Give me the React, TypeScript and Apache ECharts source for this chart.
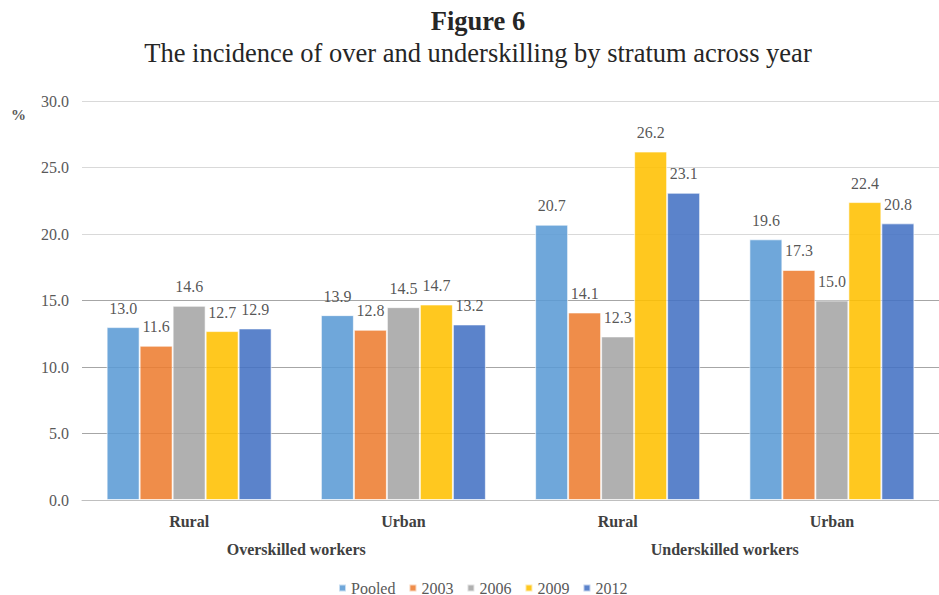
import React, { useEffect, useRef } from "react";
import * as echarts from "echarts";

// Strata (inner axis) and skill groups (outer axis)
const strata = ["Rural", "Urban", "Rural", "Urban"];
const groups = ["Overskilled workers", "Underskilled workers"];
const yTicks = [0, 5, 10, 15, 20, 25, 30];

// Incidence (%) per stratum, one array per year
const seriesNames = ["Pooled", "2003", "2006", "2009", "2012"];
const pooled = [13.0, 13.9, 20.7, 19.6];
const y2003 = [11.6, 12.8, 14.1, 17.3];
const y2006 = [14.6, 14.5, 12.3, 15.0];
const y2009 = [12.7, 14.7, 26.2, 22.4];
const y2012 = [12.9, 13.2, 23.1, 20.8];

const colors = ["#5B9BD5", "#ED7D31", "#A5A5A5", "#FFC000", "#4472C4"];
const FONT = "'Liberation Serif', 'Times New Roman', serif";

export default function App() {
  const ref = useRef<HTMLDivElement>(null);

  useEffect(() => {
    if (!ref.current) return;
    const chart = echarts.init(ref.current, undefined, { renderer: "svg" });
    const values = [pooled, y2003, y2006, y2009, y2012];

    chart.setOption({
      animation: false,
      backgroundColor: "#ffffff",
      textStyle: { fontFamily: FONT },
      title: [
        {
          text: "Figure 6",
          left: 473,
          textAlign: "center",
          top: 2,
          textStyle: { fontFamily: FONT, fontSize: 26.5, fontWeight: "bold", color: "#262626" },
        },
        {
          text: "The incidence of over and underskilling by stratum across year",
          left: 473,
          textAlign: "center",
          top: 34,
          textStyle: { fontFamily: FONT, fontSize: 26.5, fontWeight: "normal", color: "#262626" },
        },
      ],
      graphic: [
        {
          type: "text",
          left: 11,
          top: 107,
          style: { text: "%", font: `bold 15px ${FONT}`, fill: "#595959" },
        },
      ],
      legend: {
        top: 580,
        left: 338,
        padding: 0,
        itemWidth: 7,
        itemHeight: 7,
        itemGap: 13,
        icon: "rect",
        textStyle: { fontFamily: FONT, fontSize: 16, lineHeight: 14, color: "#595959" },
        data: seriesNames,
      },
      grid: { left: 82, right: -9, top: 101, bottom: 95 },
      xAxis: [
        {
          type: "category",
          data: strata,
          axisLine: { show: true, lineStyle: { color: "#bfbfbf", width: 1 } },
          axisTick: { show: false },
          axisLabel: {
            margin: 13,
            fontFamily: FONT,
            fontSize: 16,
            fontWeight: "bold",
            color: "#404040",
          },
        },
        {
          type: "category",
          data: groups,
          position: "bottom",
          offset: 28,
          axisLine: { show: false },
          axisTick: { show: false },
          splitLine: { show: false },
          axisLabel: {
            margin: 13,
            fontFamily: FONT,
            fontSize: 16,
            fontWeight: "bold",
            color: "#404040",
          },
        },
      ],
      yAxis: {
        type: "value",
        min: 0,
        max: 30,
        interval: 5,
        axisLine: { show: false },
        axisTick: { show: false },
        axisLabel: {
          margin: 13,
          fontFamily: FONT,
          fontSize: 16,
          color: "#595959",
          formatter: (v: number) => (yTicks.includes(v) ? v.toFixed(1) : ""),
        },
        splitLine: {
          lineStyle: {
            color: ["#a6a6a6", "#a6a6a6", "#a6a6a6", "#a6a6a6", "#d9d9d9", "#d9d9d9", "#d9d9d9"],
            width: 1,
          },
        },
      },
      series: seriesNames.map((name, i) => ({
        name,
        type: "bar",
        xAxisIndex: 0,
        data: values[i],
        barWidth: 33,
        barGap: "0%",
        itemStyle: {
          color: colors[i],
          opacity: 0.88,
          borderColor: "rgba(255,255,255,0.7)",
          borderWidth: 1,
        },
        label: {
          show: true,
          position: "top",
          distance: 11,
          fontFamily: FONT,
          fontSize: 16,
          color: "#404040",
          formatter: (p: any) => Number(p.value).toFixed(1),
        },
      })),
    });

    return () => chart.dispose();
  }, []);

  return (
    <div
      ref={ref}
      style={{ position: "fixed", left: 0, top: 0, width: 939, height: 595, background: "#fff" }}
    />
  );
}
